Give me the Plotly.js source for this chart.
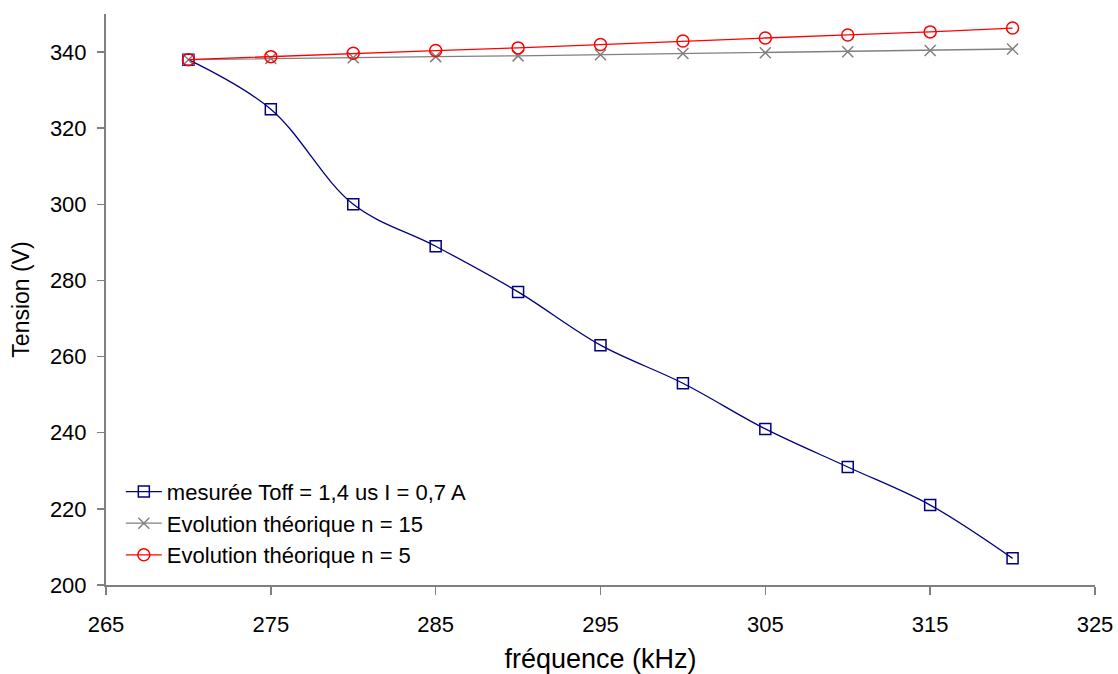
<!DOCTYPE html>
<html>
<head>
<meta charset="utf-8">
<script src="https://cdn.plot.ly/plotly-3.0.1.min.js"></script>
<style>html,body{margin:0;padding:0;background:#fff;}#chart{width:1118px;height:674px;}</style>
</head>
<body>
<div id="chart"></div>
<script>
var frequence = [270, 275, 280, 285, 290, 295, 300, 305, 310, 315, 320];
var mesuree = [338, 325, 300, 289, 277, 263, 253, 241, 231, 221, 207];
var theoN15 = [338.0, 338.3, 338.5, 338.8, 339.0, 339.3, 339.6, 339.8, 340.1, 340.4, 340.8];
var theoN5 = [338.0, 338.8, 339.7, 340.4, 341.1, 342.0, 342.9, 343.7, 344.5, 345.3, 346.3];
var xTicks = [265, 275, 285, 295, 305, 315, 325];
var yTicks = [200, 220, 240, 260, 280, 300, 320, 340];

var traces = [
  {x: frequence, y: mesuree, name: 'mesurée Toff = 1,4 us I = 0,7 A', mode: 'lines+markers',
   line: {color: '#000080', width: 1.3, shape: 'spline', smoothing: 1},
   marker: {symbol: 'square-open', size: 11, color: '#000080', line: {width: 1.5}}},
  {x: frequence, y: theoN15, name: 'Evolution théorique n = 15', mode: 'lines+markers',
   line: {color: '#808080', width: 1.3},
   marker: {symbol: 'x-thin-open', size: 11, color: '#808080', line: {width: 1.5, color: '#808080'}}},
  {x: frequence, y: theoN5, name: 'Evolution théorique n = 5', mode: 'lines+markers',
   line: {color: '#FF0000', width: 1.3},
   marker: {symbol: 'circle-open', size: 12, color: '#FF0000', line: {width: 1.5}}}
];

var layout = {
  width: 1118, height: 674,
  margin: {l: 106, r: 23, t: 14, b: 89},
  paper_bgcolor: '#fff', plot_bgcolor: '#fff',
  font: {family: 'Liberation Sans, Arial, sans-serif', color: '#000', size: 22},
  showlegend: true,
  hovermode: false,
  legend: {x: 0.015, y: 0.2, xanchor: 'left', yanchor: 'top', bgcolor: 'rgba(0,0,0,0)',
           font: {size: 22}, itemwidth: 36},
  xaxis: {range: [265, 325], tickvals: xTicks, ticktext: xTicks.map(String), showgrid: false, zeroline: false,
          showline: true, linecolor: '#808080', linewidth: 2, ticks: 'outside', ticklen: 8, tickwidth: 1.5,
          tickcolor: '#808080', tickfont: {size: 22}, ticklabelstandoff: 11,
          title: {text: 'fréquence (kHz)', font: {size: 27}, standoff: 14}},
  yaxis: {range: [200, 350], tickvals: yTicks, ticktext: yTicks.map(String), showgrid: false, zeroline: false,
          showline: true, linecolor: '#808080', linewidth: 2, ticks: 'outside', ticklen: 7, tickwidth: 1.5,
          tickcolor: '#808080', tickfont: {size: 22}, ticklabelstandoff: 6,
          title: {text: 'Tension (V)', font: {size: 23}, standoff: 14}}
};

Plotly.newPlot('chart', traces, layout, {displayModeBar: false, staticPlot: true});
</script>
</body>
</html>
